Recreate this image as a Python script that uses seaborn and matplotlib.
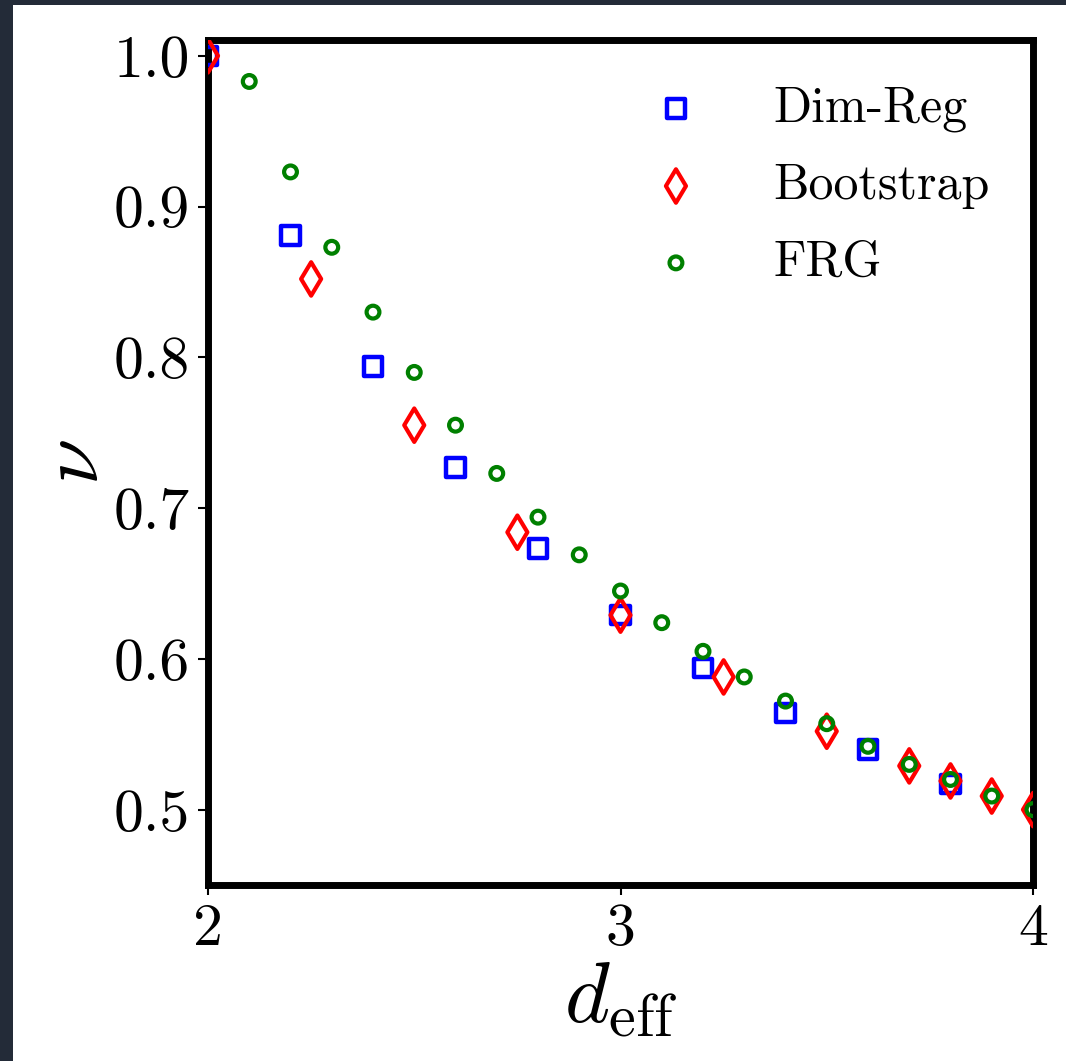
import numpy as np
import pandas as pd
import matplotlib
matplotlib.use("Agg")
import matplotlib.pyplot as plt
import seaborn as sns
from matplotlib.patches import Rectangle

# valores
d_dimreg = [2.0, 2.2, 2.4, 2.6, 2.8, 3.0, 3.2, 3.4, 3.6, 3.8]
nu_dimreg = [1.0, 0.881, 0.794, 0.727, 0.673, 0.629, 0.594, 0.564, 0.540, 0.517]

d_boot = [2.0, 2.25, 2.5, 2.75, 3.0, 3.25, 3.5, 3.7, 3.8, 3.9, 4.0]
nu_boot = [1.0, 0.852, 0.755, 0.684, 0.629, 0.588, 0.552, 0.529, 0.519, 0.509, 0.5]

d_frg = [2.1, 2.2, 2.3, 2.4, 2.5, 2.6, 2.7, 2.8, 2.9, 3.0, 3.1, 3.2, 3.3, 3.4,
         3.5, 3.6, 3.7, 3.8, 3.9, 4.0]
nu_frg = [0.983, 0.923, 0.873, 0.830, 0.790, 0.755, 0.723, 0.694, 0.669, 0.645,
          0.624, 0.605, 0.588, 0.572, 0.557, 0.542, 0.530, 0.520, 0.509, 0.5]

sns.set_style("ticks")
plt.rcParams["font.family"] = "serif"
plt.rcParams["font.serif"] = ["cmr10"]
plt.rcParams["mathtext.fontset"] = "cm"
plt.rcParams["axes.formatter.use_mathtext"] = True
for k in ["text.color", "axes.labelcolor", "xtick.color", "ytick.color"]:
    plt.rcParams[k] = "black"

fig = plt.figure(figsize=(10.66, 10.61), dpi=100, facecolor="#232b38")
# fundo branco (a imagem original tem uma borda escura)
fig.patches.append(Rectangle((13 / 1066, 0), 1, 1 - 5 / 1061,
                             transform=fig.transFigure, facecolor="white",
                             edgecolor="none", zorder=-10))
ax = fig.add_axes([208 / 1066, 1 - 885 / 1061, (1033 - 208) / 1066, (885 - 40) / 1061])

df_dr = pd.DataFrame({"d": d_dimreg, "nu": nu_dimreg})
df_bs = pd.DataFrame({"d": d_boot, "nu": nu_boot})
df_frg = pd.DataFrame({"d": d_frg, "nu": nu_frg})

sns.scatterplot(data=df_dr, x="d", y="nu", marker="s", s=180, color="blue",
                facecolor="none", edgecolor="blue", linewidth=3.2,
                label="Dim-Reg", ax=ax, zorder=3)
sns.scatterplot(data=df_bs, x="d", y="nu", marker="d", s=290, color="red",
                facecolor="none", edgecolor="red", linewidth=3.0,
                label="Bootstrap", ax=ax, zorder=4)
sns.scatterplot(data=df_frg, x="d", y="nu", marker="o", s=85, color="green",
                facecolor="none", edgecolor="green", linewidth=3.0,
                label="FRG", ax=ax, zorder=5)

ax.set_xlim(2, 4)
ax.set_ylim(0.45, 1.0105)
ax.set_xticks([2, 3, 4])
ax.set_yticks([0.5, 0.6, 0.7, 0.8, 0.9, 1.0])
ax.set_xticklabels(["2", "3", "4"])
ax.set_yticklabels(["0.5", "0.6", "0.7", "0.8", "0.9", "1.0"])
ax.tick_params(direction="out", length=7, width=1.5, labelsize=43, pad=6)

for s in ax.spines.values():
    s.set_linewidth(5)
    s.set_color("black")

ax.set_xlabel(r"$d_{\rm eff}$", fontsize=62, labelpad=2)
ax.set_ylabel(r"$\nu$", fontsize=60, labelpad=0)

ax.legend(loc="upper right", frameon=False, fontsize=36, handlelength=1,
          handletextpad=1.45, labelspacing=0.62, borderaxespad=0.4,
          bbox_to_anchor=(0.996, 0.993))

fig.savefig("out.png", dpi=100, facecolor=fig.get_facecolor())
